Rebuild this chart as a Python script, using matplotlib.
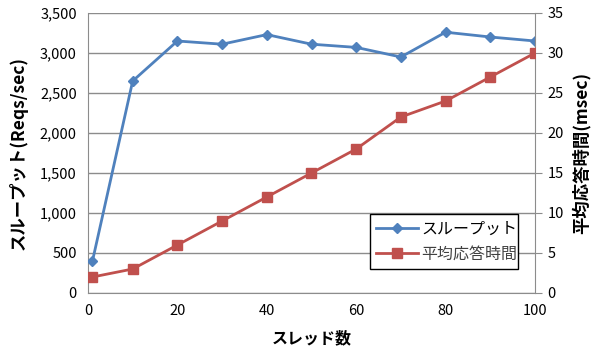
import matplotlib
matplotlib.use("Agg")
import matplotlib.pyplot as plt
from matplotlib.ticker import FuncFormatter, MultipleLocator

plt.rcParams['font.family'] = ['Noto Sans CJK JP', 'DejaVu Sans']

threads = [1, 10, 20, 30, 40, 50, 60, 70, 80, 90, 100]
throughput = [400, 2650, 3150, 3110, 3230, 3110, 3070, 2950, 3260, 3200, 3150]
resp_time = [2, 3, 6, 9, 12, 15, 18, 22, 24, 27, 30]

blue = '#4F81BD'
red = '#C0504D'
grid_c = '#8C8C8C'

fig = plt.figure(figsize=(5.91, 3.51), dpi=100)
ax = fig.add_axes([88 / 591, 1 - 293 / 351, (535 - 88) / 591, (293 - 13) / 351])
ax2 = ax.twinx()

l1, = ax.plot(threads, throughput, color=blue, lw=2, marker='D', ms=5.5,
              label='スループット', zorder=3)
l2, = ax2.plot(threads, resp_time, color=red, lw=2, marker='s', ms=7,
               label='平均応答時間', zorder=3)

ax.set_xlim(0, 100)
ax.set_ylim(0, 3500)
ax2.set_ylim(0, 35)
ax.xaxis.set_major_locator(MultipleLocator(20))
ax.yaxis.set_major_locator(MultipleLocator(500))
ax2.yaxis.set_major_locator(MultipleLocator(5))
ax.yaxis.set_major_formatter(FuncFormatter(lambda v, p: f'{int(v):,}'))

ax.grid(axis='y', color=grid_c, lw=1)
ax.set_axisbelow(True)

for a in (ax, ax2):
    for s in a.spines.values():
        s.set_visible(False)
ax.spines['left'].set_visible(True)
ax.spines['left'].set_color(grid_c)
ax.spines['bottom'].set_visible(True)
ax.spines['bottom'].set_color(grid_c)
ax2.spines['right'].set_visible(True)
ax2.spines['right'].set_color(grid_c)

ax.tick_params(axis='y', length=0, labelsize=10.5, pad=8)
ax.tick_params(axis='x', length=0, labelsize=10.5, pad=8)
ax2.tick_params(axis='y', length=5, color=grid_c, labelsize=10.5, pad=4)

ax.set_xlabel('スレッド数', fontsize=11.5, fontweight='bold', labelpad=9)
ax.set_ylabel('スループット(Reqs/sec)', fontsize=12.5, fontweight='bold', labelpad=9)
ax2.set_ylabel('平均応答時間(msec)', fontsize=12.5, fontweight='bold', labelpad=6)

leg = ax2.legend(handles=[l1, l2], loc='lower left',
                 bbox_to_anchor=((370 - 88) / 447, (293 - 269) / 280, (518 - 370) / 447, (269 - 210) / 280),
                 mode='expand', fontsize=11.5, frameon=True, fancybox=False,
                 edgecolor='black', handlelength=2.6, handletextpad=0.2,
                 borderaxespad=0, borderpad=0.4, labelspacing=0.5)
leg.get_frame().set_linewidth(1)
leg.get_frame().set_alpha(1)
leg.get_texts()[1].set_color('#404040')

fig.savefig('out.png', dpi=100)
